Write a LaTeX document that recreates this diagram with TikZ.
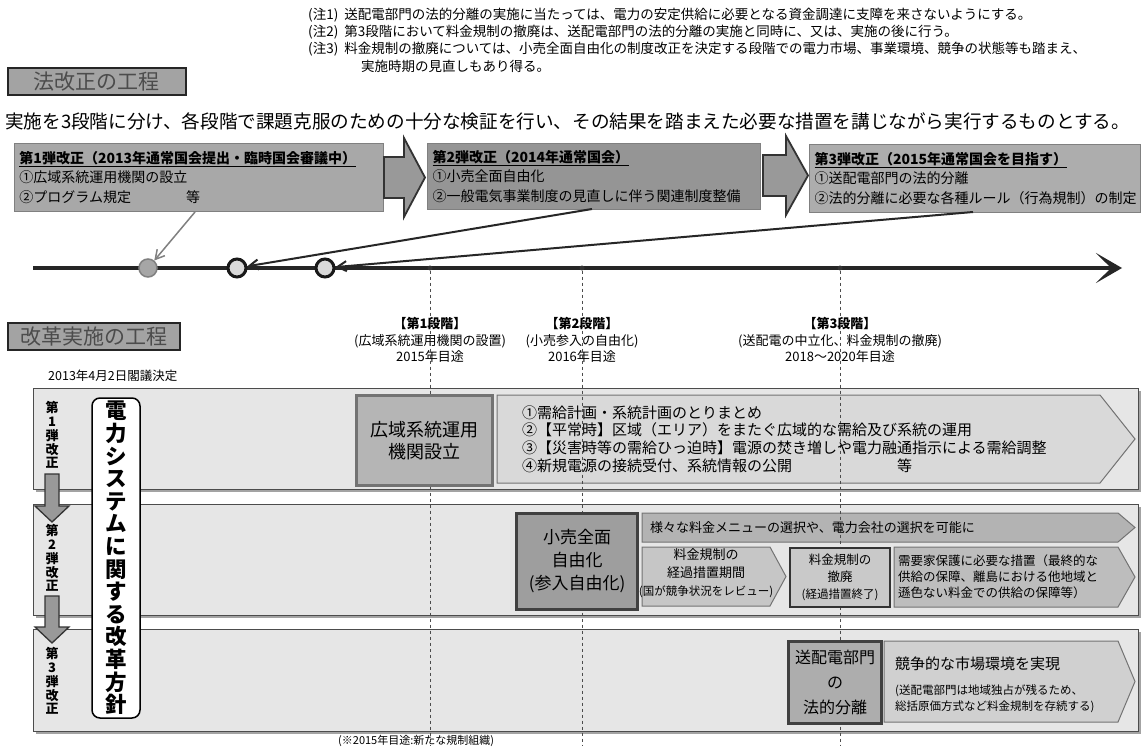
\documentclass[tikz,border=0pt]{standalone}
\usepackage{fontspec}
\setmainfont{Noto Sans CJK JP}
\usetikzlibrary{arrows.meta,shadows}
\definecolor{tgray}{HTML}{A3A3A3}
\definecolor{tbA}{HTML}{A8A8A8}
\definecolor{tbB}{HTML}{959595}
\definecolor{tbC}{HTML}{ADADAD}
\definecolor{gPanel}{HTML}{E6E6E6}
\definecolor{gPent}{HTML}{D9D9D9}
\definecolor{gKoiki}{HTML}{B5B5B5}
\definecolor{gKouri}{HTML}{9E9E9E}
\definecolor{gMenu}{HTML}{B3B3B3}
\definecolor{gKeika}{HTML}{C6C6C6}
\definecolor{gTeppai}{HTML}{C9C9C9}
\definecolor{gJuyo}{HTML}{BDBDBD}
\definecolor{gSohai}{HTML}{ADADAD}
\definecolor{gKyoso}{HTML}{D0D0D0}
\newcommand\jfs[2]{\fontsize{#1}{#2}\selectfont}
\newcommand\mypent[6]{\draw[pentshape=#1] (#2,#3) -- (#4,#3) -- (#5,{(#3+#6)/2}) -- (#4,#6) -- (#2,#6) -- cycle;}
\tikzset{
  note/.style={anchor=west, inner sep=0pt, font=\jfs{13.5}{16}},
  titlebox/.style={draw=black!85, line width=2pt, fill=tgray, text=black!70, font=\jfs{21}{24}, inner sep=0pt, anchor=north west},
  topbox/.style={draw=black!50, line width=1pt, fill=#1, align=left, inner xsep=5pt, inner ysep=0pt, font=\jfs{14}{19.5}, anchor=north west},
  fatarrow/.style={draw=black!80, line width=1.8pt, fill=black!40, line join=miter},
  timeline/.style={line width=4pt, draw=black!85, -{Stealth[length=26pt,width=30pt,inset=15pt]}},
  circA/.style={circle, minimum size=18pt, inner sep=0pt, fill=black!35, draw=black!50, line width=1.5pt},
  circB/.style={circle, minimum size=18pt, inner sep=0pt, fill=black!15, draw=black!90, line width=3pt},
  ptrA/.style={draw=black!50, line width=1.5pt, -{Straight Barb[length=9pt,width=10pt]}},
  ptrB/.style={draw=black!85, line width=2pt, -{Straight Barb[length=9pt,width=10pt]}},
  tick/.style={circle, minimum size=5pt, inner sep=0pt, fill=black!80},
  vdash/.style={draw=black!70, line width=0.8pt, dash pattern=on 3pt off 3pt},
  stage/.style={align=center, inner sep=0pt, font=\jfs{13}{16.5}},
  panel/.style={draw=black!70, line width=1.2pt, fill=gPanel, inner sep=0pt, anchor=north west,
    drop shadow={shadow xshift=2.5pt, shadow yshift=-2.5pt, fill=black!60, opacity=0.6}},
  vlabel/.style={align=center, inner sep=0pt, font=\bfseries\jfs{13}{13.8}},
  downarrow/.style={draw=black!80, line width=1.3pt, fill=black!40, line join=miter},
  bigbox/.style={draw=black, line width=1.5pt, fill=white, rounded corners=8pt, align=center, inner sep=0pt,
    minimum width=48pt, minimum height=320pt, font=\bfseries\jfs{21.5}{22.6}},
  darkbox/.style={draw=black!75, line width=3pt, fill=#1, align=center, inner sep=0pt, anchor=north west},
  pentshape/.style={draw=black!55, line width=1pt, fill=#1, line join=miter},
  txt/.style={inner sep=0pt, align=left, anchor=west}
}
\begin{document}
\begin{tikzpicture}[x=1pt,y=-1pt]
\useasboundingbox[fill=white] (0,0) rectangle (1146,749);

% ---------- notes ----------
\node[note] (n1) at (308,15) {(注1)\ \ 送配電部門の法的分離の実施に当たっては、電力の安定供給に必要となる資金調達に支障を来さないようにする。};
\node[note] (n2) at (308,32) {(注2)\ \ 第3段階において料金規制の撤廃は、送配電部門の法的分離の実施と同時に、又は、実施の後に行う。};
\node[note] (n3) at (308,49) {(注3)\ \ 料金規制の撤廃については、小売全面自由化の制度改正を決定する段階での電力市場、事業環境、競争の状態等も踏まえ、};
\node[note] (n4) at (361,66) {実施時期の見直しもあり得る。};

% ---------- titles ----------
\node[titlebox, minimum width=178pt, minimum height=27pt] (t1) at (7,67) {法改正の工程};
\node[anchor=west, inner sep=0pt, font=\jfs{18.6}{22}] (intro) at (5,121) {実施を3段階に分け、各段階で課題克服のための十分な検証を行い、その結果を踏まえた必要な措置を講じながら実行するものとする。};

% ---------- legislation boxes ----------
\node[topbox=tbA, text width=359pt, minimum height=68pt] (b1) at (14,143)
  {\underline{\textbf{第1弾改正（2013年通常国会提出・臨時国会審議中）}}\\①広域系統運用機関の設立\\②プログラム規定\hspace{55pt}等};
\node[topbox=tbB, text width=323pt, minimum height=66pt] (b2) at (427,143)
  {\underline{\textbf{第2弾改正（2014年通常国会）}}\\①小売全面自由化\\②一般電気事業制度の見直しに伴う関連制度整備};
\node[topbox=tbC, text width=321pt, minimum height=68pt] (b3) at (809,144)
  {\underline{\textbf{第3弾改正（2015年通常国会を目指す）}}\\①送配電部門の法的分離\\②法的分離に必要な各種ルール（行為規制）の制定};

\draw[fatarrow] (384,157) -- (404,157) -- (404,138) -- (425,177.5) -- (404,217) -- (404,198) -- (384,198) -- cycle;
\draw[fatarrow] (763,155) -- (786,155) -- (786,136) -- (808,175.5) -- (786,215) -- (786,196) -- (763,196) -- cycle;

% ---------- timeline ----------
\coordinate (tl0) at (33,268);
\coordinate (tl1) at (1122,268);
\draw[timeline] (tl0) -- (tl1);
\node[tick] (k1) at (430,268) {};
\node[tick] (k2) at (582,268) {};
\node[tick] (k3) at (840,268) {};
\node[circA] (c1) at (148,268) {};
\node[circB] (c2) at (237,268) {};
\node[circB] (c3) at (325,268) {};
\coordinate (p1) at (195,212);
\coordinate (p2) at (592,209);
\coordinate (p3) at (973,212);
\draw[ptrA] (p1) -- (c1);
\draw[ptrB] (p2) -- (c2);
\draw[ptrB] (p3) -- (c3);

% ---------- implementation title & stages ----------
\node[titlebox, minimum width=172pt, minimum height=27pt] (t2) at (7,322) {改革実施の工程};
\node[stage] (s1) at (430,340) {\textbf{【第1段階】}\\(広域系統運用機関の設置)\\2015年目途};
\node[stage] (s2) at (582,340) {\textbf{【第2段階】}\\(小売参入の自由化)\\2016年目途};
\node[stage] (s3) at (840,340) {\textbf{【第3段階】}\\(送配電の中立化、料金規制の撤廃)\\2018～2020年目途};
\node[anchor=west, inner sep=0pt, font=\jfs{12.5}{14}] (date) at (48,376) {2013年4月2日閣議決定};

% ---------- panels ----------
\node[panel, minimum width=1105pt, minimum height=101pt] (r1) at (33,388) {};
\node[panel, minimum width=1105pt, minimum height=111pt] (r2) at (33,504) {};
\node[panel, minimum width=1105pt, minimum height=102pt] (r3) at (33,629) {};

% pentagons
\mypent{gPent}{497}{395}{1100}{1135}{483}
\mypent{gMenu}{642}{513}{1118}{1135}{542}
\mypent{gKeika}{642}{547}{770}{786}{606}
\mypent{gJuyo}{894}{547}{1118}{1135}{607}
\mypent{gKyoso}{884}{641}{1118}{1135}{722}

% dashed stage lines
\coordinate (d1) at (430,745);
\coordinate (d2) at (582,745);
\coordinate (d3) at (840,745);
\draw[vdash] (k1) -- (d1);
\draw[vdash] (k2) -- (d2);
\draw[vdash] (k3) -- (d3);

% row 1
\node[darkbox=gKoiki, minimum width=136pt, minimum height=90pt, draw=black!55, line width=2.5pt, font=\jfs{18}{22}] (koiki) at (355,394) {広域系統運用\\機関設立};
\node[txt, font=\jfs{15}{17.7}] (r1t) at (522,439)
  {①需給計画・系統計画のとりまとめ\\②【平常時】区域（エリア）をまたぐ広域的な需給及び系統の運用\\③【災害時等の需給ひっ迫時】電源の焚き増しや電力融通指示による需給調整\\\makebox[375pt][l]{④新規電源の接続受付、系統情報の公開}等};

% row 2
\node[darkbox=gKouri, minimum width=121pt, minimum height=96pt, font=\jfs{17}{23}] (kouri) at (515,512) {小売全面\\自由化\\(参入自由化)};
\node[txt, font=\jfs{13}{15}] (menu) at (650,527.5) {様々な料金メニューの選択や、電力会社の選択を可能に};
\node[align=center, inner sep=0pt, font=\jfs{13}{18}] (keika) at (706,573) {料金規制の\\経過措置期間\\{\jfs{11.5}{14}(国が競争状況をレビュー)}};
\node[darkbox=gTeppai, minimum width=100pt, minimum height=59pt, line width=2pt, draw=black!80, font=\jfs{12.5}{17}] (teppai) at (789,547) {料金規制の\\撤廃\\{\jfs{11.5}{14}(経過措置終了)}};
\node[txt, font=\jfs{12.5}{16}] (juyo) at (898,577) {需要家保護に必要な措置（最終的な\\供給の保障、離島における他地域と\\遜色ない料金での供給の保障等）};

% row 3
\node[darkbox=gSohai, minimum width=93pt, minimum height=82pt, font=\jfs{16}{25}] (sohai) at (787,640) {送配電部門\\の\\法的分離};
\node[txt, font=\jfs{15}{17}] (kyoso) at (895,664) {競争的な市場環境を実現};
\node[txt, font=\jfs{11.5}{16}] (kyoso2) at (895,699) {(送配電部門は地域独占が残るため、\\総括原価方式など料金規制を存続する)};

% left labels
\node[vlabel] (v1) at (52,435) {第\\1\\弾\\改\\正};
\node[vlabel] (v2) at (52,558) {第\\2\\弾\\改\\正};
\node[vlabel] (v3) at (52,681) {第\\3\\弾\\改\\正};
\draw[downarrow] (45,474) -- (59,474) -- (59,506) -- (69,506) -- (52,522) -- (35,506) -- (45,506) -- cycle;
\draw[downarrow] (45,596) -- (59,596) -- (59,627) -- (69,627) -- (52,643) -- (35,627) -- (45,627) -- cycle;
\node[bigbox] (main) at (116,558) {電\\力\\シ\\ス\\テ\\ム\\に\\関\\す\\る\\改\\革\\方\\針};

\node[anchor=west, inner sep=0pt, font=\jfs{11}{13}] (bnote) at (338,741) {(※2015年目途:新たな規制組織)};
\end{tikzpicture}
\end{document}
